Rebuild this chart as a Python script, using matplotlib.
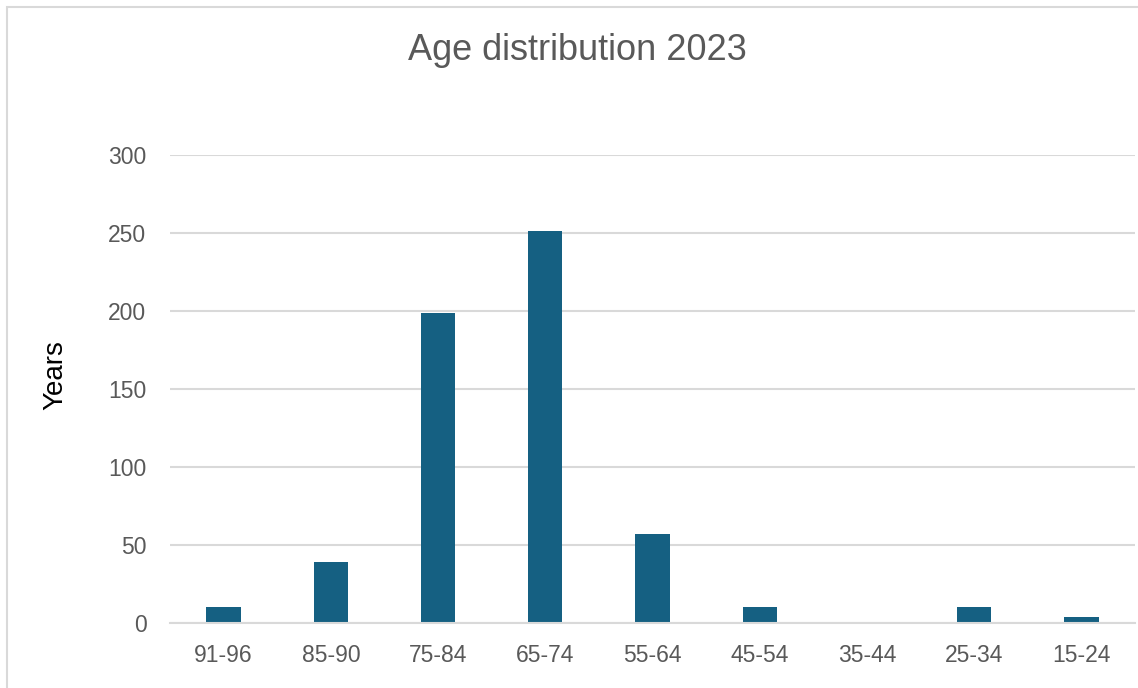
import matplotlib.pyplot as plt
from matplotlib.patches import Rectangle

# age groups and counts
groups = ['91-96', '85-90', '75-84', '65-74', '55-64', '45-54', '35-44', '25-34', '15-24']
counts = [10, 39, 199, 251, 57, 10, 0, 10, 4]
yticks = [0, 50, 100, 150, 200, 250, 300]

plt.rcParams['font.family'] = ['Liberation Sans', 'DejaVu Sans']

fig = plt.figure(figsize=(11.38, 6.88), dpi=100)
ax = fig.add_axes([170 / 1138, 1 - 623 / 688, (1135 - 170) / 1138, (623 - 155) / 688])

ax.bar(range(len(groups)), counts, width=0.32, color='#156082', zorder=3)

ax.set_xlim(-0.5, len(groups) - 0.5)
ax.set_ylim(0, 300)
ax.set_yticks(yticks)
ax.set_xticks(range(len(groups)))
ax.set_xticklabels(groups)
ax.yaxis.grid(True, color='#d9d9d9', linewidth=1.5, zorder=0)
ax.tick_params(axis='both', length=0, labelsize=16.5, labelcolor='#595959')
ax.tick_params(axis='y', pad=17)
ax.tick_params(axis='x', pad=15)
for s in ['top', 'right', 'left']:
    ax.spines[s].set_visible(False)
ax.spines['bottom'].set_color('#d9d9d9')
ax.spines['bottom'].set_linewidth(1.5)
ax.spines['bottom'].set_zorder(4)

fig.text(55 / 1138, 1 - 375 / 688, 'Years', rotation=90, ha='center', va='center',
         fontsize=20, color='#000000')
fig.text(577 / 1138, 1 - 50 / 688, 'Age distribution 2023', ha='center', va='center',
         fontsize=26, color='#595959')

# chart area border
fig.patches.append(Rectangle((7 / 1138, -0.1), 1.0, 1.1 - 7.5 / 688, transform=fig.transFigure,
                             fill=False, edgecolor='#d9d9d9', linewidth=1.5))

fig.savefig('out.png', dpi=100)
